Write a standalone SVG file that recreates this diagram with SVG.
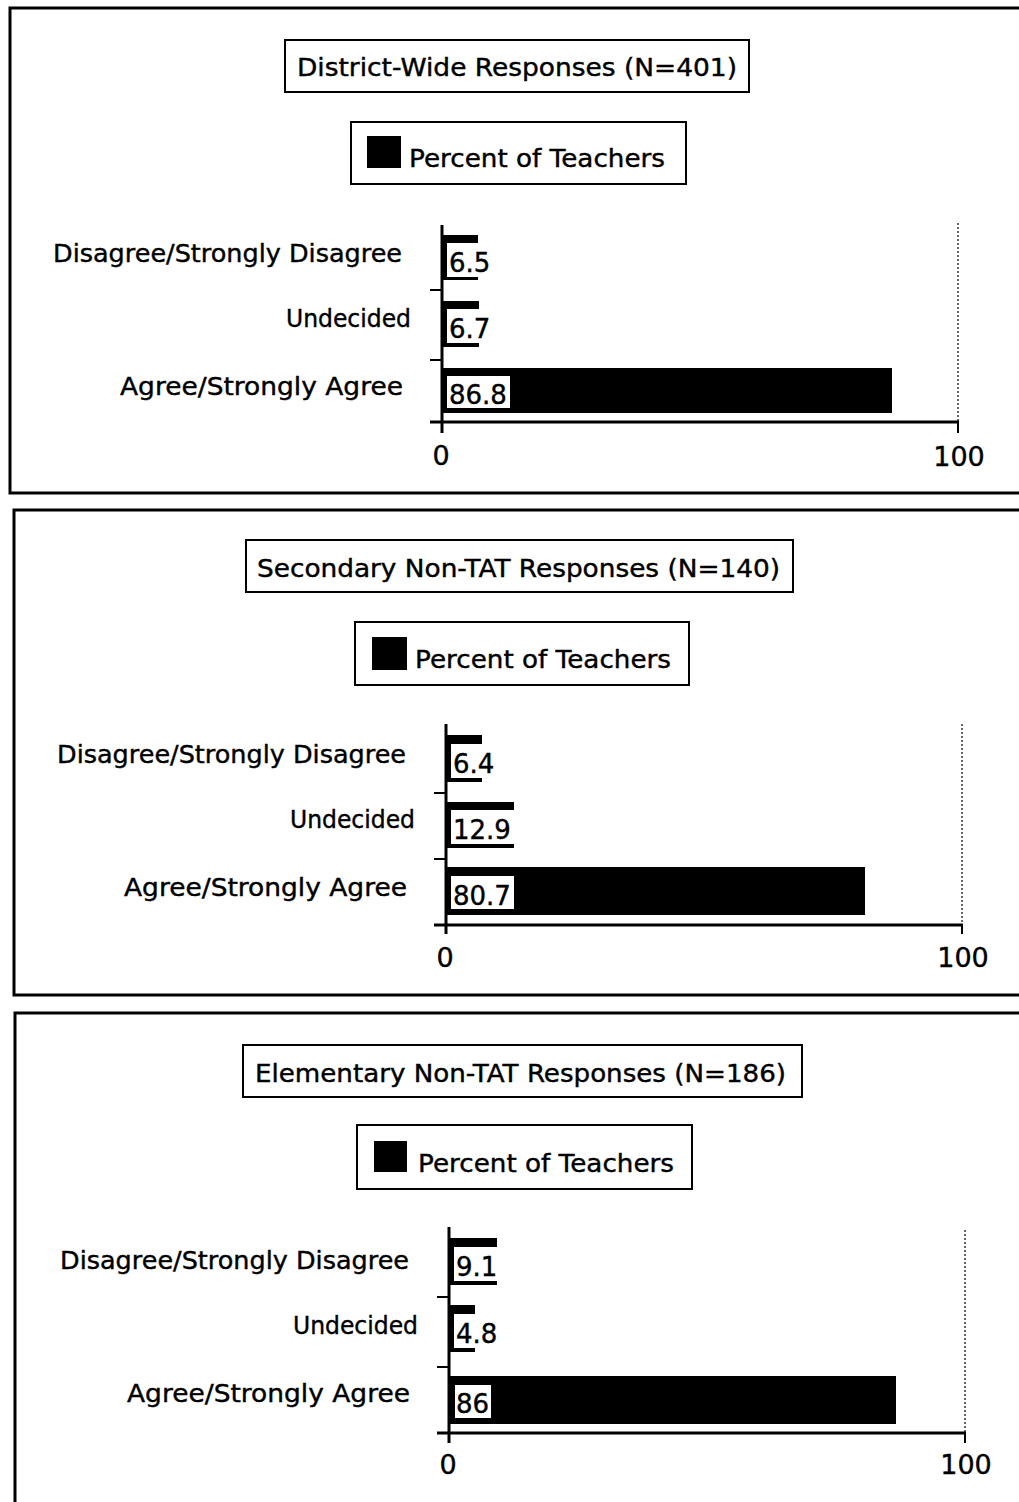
<svg xmlns="http://www.w3.org/2000/svg" width="1019" height="1502" viewBox="0 0 1019 1502">
<style>
  .frame{fill:none;stroke:#000;stroke-width:3}
  .box{fill:#fff;stroke:#000;stroke-width:2}
  .t{font-family:"DejaVu Sans","Liberation Sans",sans-serif;fill:#000;stroke:#000;stroke-width:0.4}
  .title{font-size:24px}
  .leg{font-size:25px}
  .cat{font-size:24px;text-anchor:end}
  .val{font-size:26px}
  .ax{font-size:27px;text-anchor:middle}
  .axis{stroke:#000;stroke-width:3;fill:none}
  .tick{stroke:#000;stroke-width:2;fill:none}
  .grid{stroke:#000;stroke-width:1.2;stroke-dasharray:2 2;fill:none}
  .bar{fill:#000}
  .lbl{fill:#fff}
</style>
<rect width="1019" height="1502" fill="#fff"/>

<!-- Panel 1 -->
<g id="panel-district">
  <rect class="frame" x="10" y="8" width="1030" height="485"/>
  <g id="title-district">
    <rect class="box" x="285" y="40" width="464" height="52"/>
    <text class="t title" x="297" y="76" textLength="440" lengthAdjust="spacingAndGlyphs">District-Wide Responses  (N=401)</text>
  </g>
  <g id="legend-district">
    <rect class="box" x="351" y="122" width="335" height="62"/>
    <rect class="bar" x="367" y="136" width="34" height="32"/>
    <text class="t leg" x="409" y="167" textLength="256" lengthAdjust="spacingAndGlyphs">Percent of Teachers</text>
  </g>
  <g id="chart-district">
    <line class="grid" x1="958" y1="223" x2="958" y2="422"/>
    <text class="t cat" x="402" y="262" textLength="349" lengthAdjust="spacingAndGlyphs">Disagree/Strongly Disagree</text>
    <text class="t cat" x="411" y="327" textLength="125" lengthAdjust="spacingAndGlyphs">Undecided</text>
    <text class="t cat" x="403" y="395" textLength="283" lengthAdjust="spacingAndGlyphs">Agree/Strongly Agree</text>
    <rect class="bar" x="441" y="235" width="37" height="45"/>
    <rect class="lbl" x="447" y="243" width="46" height="34"/>
    <text class="t val" x="449" y="272">6.5</text>
    <rect class="bar" x="441" y="301" width="38" height="46"/>
    <rect class="lbl" x="447" y="309" width="46" height="34"/>
    <text class="t val" x="449" y="338">6.7</text>
    <rect class="bar" x="441" y="368" width="451" height="45"/>
    <rect class="lbl" x="447" y="376" width="63" height="32"/>
    <text class="t val" x="449" y="404">86.8</text>
    <line class="axis" x1="442" y1="225" x2="442" y2="433"/>
    <line class="axis" x1="430" y1="422" x2="959" y2="422"/>
    <line class="tick" x1="958" y1="422" x2="958" y2="433"/>
    <line class="tick" x1="430" y1="290" x2="442" y2="290"/>
    <line class="tick" x1="430" y1="360" x2="442" y2="360"/>
    <text class="t ax" x="441" y="465">0</text>
    <text class="t ax" x="959" y="466">100</text>
  </g>
</g>

<!-- Panel 2 -->
<g id="panel-secondary">
  <rect class="frame" x="14" y="510" width="1030" height="485"/>
  <g id="title-secondary">
    <rect class="box" x="246" y="540" width="547" height="52"/>
    <text class="t title" x="257" y="577" textLength="523" lengthAdjust="spacingAndGlyphs">Secondary Non-TAT Responses  (N=140)</text>
  </g>
  <g id="legend-secondary">
    <rect class="box" x="355" y="622" width="334" height="63"/>
    <rect class="bar" x="372" y="637" width="35" height="33"/>
    <text class="t leg" x="415" y="668" textLength="256" lengthAdjust="spacingAndGlyphs">Percent of Teachers</text>
  </g>
  <g id="chart-secondary" transform="translate(4,501)">
    <line class="grid" x1="958" y1="223" x2="958" y2="422"/>
    <text class="t cat" x="402" y="262" textLength="349" lengthAdjust="spacingAndGlyphs">Disagree/Strongly Disagree</text>
    <text class="t cat" x="411" y="327" textLength="125" lengthAdjust="spacingAndGlyphs">Undecided</text>
    <text class="t cat" x="403" y="395" textLength="283" lengthAdjust="spacingAndGlyphs">Agree/Strongly Agree</text>
    <rect class="bar" x="441" y="234" width="37" height="47"/>
    <rect class="lbl" x="447" y="243" width="46" height="34"/>
    <text class="t val" x="449" y="272">6.4</text>
    <rect class="bar" x="441" y="301" width="69" height="46"/>
    <rect class="lbl" x="447" y="309" width="63" height="34"/>
    <text class="t val" x="449" y="338">12.9</text>
    <rect class="bar" x="441" y="366" width="420" height="48"/>
    <rect class="lbl" x="447" y="375" width="63" height="33"/>
    <text class="t val" x="449" y="404">80.7</text>
    <line class="axis" x1="442" y1="223" x2="442" y2="433"/>
    <line class="axis" x1="430" y1="424" x2="959" y2="424"/>
    <line class="tick" x1="958" y1="424" x2="958" y2="433"/>
    <line class="tick" x1="430" y1="292" x2="442" y2="292"/>
    <line class="tick" x1="430" y1="358" x2="442" y2="358"/>
    <text class="t ax" x="441" y="466">0</text>
    <text class="t ax" x="959" y="466">100</text>
  </g>
</g>

<!-- Panel 3 -->
<g id="panel-elementary">
  <rect class="frame" x="15" y="1013" width="1030" height="520"/>
  <g id="title-elementary">
    <rect class="box" x="243" y="1045" width="559" height="52"/>
    <text class="t title" x="255" y="1082" textLength="531" lengthAdjust="spacingAndGlyphs">Elementary Non-TAT Responses  (N=186)</text>
  </g>
  <g id="legend-elementary">
    <rect class="box" x="357" y="1125" width="335" height="64"/>
    <rect class="bar" x="374" y="1141" width="33" height="31"/>
    <text class="t leg" x="418" y="1172" textLength="256" lengthAdjust="spacingAndGlyphs">Percent of Teachers</text>
  </g>
  <g id="chart-elementary" transform="translate(7,1007)">
    <line class="grid" x1="958" y1="223" x2="958" y2="425"/>
    <text class="t cat" x="402" y="262" textLength="349" lengthAdjust="spacingAndGlyphs">Disagree/Strongly Disagree</text>
    <text class="t cat" x="411" y="327" textLength="125" lengthAdjust="spacingAndGlyphs">Undecided</text>
    <text class="t cat" x="403" y="395" textLength="283" lengthAdjust="spacingAndGlyphs">Agree/Strongly Agree</text>
    <rect class="bar" x="441" y="231" width="49" height="47"/>
    <rect class="lbl" x="447" y="240" width="46" height="34"/>
    <text class="t val" x="449" y="269">9.1</text>
    <rect class="bar" x="441" y="298" width="27" height="47"/>
    <rect class="lbl" x="447" y="307" width="46" height="34"/>
    <text class="t val" x="449" y="336">4.8</text>
    <rect class="bar" x="441" y="369" width="448" height="48"/>
    <rect class="lbl" x="448" y="378" width="36" height="33"/>
    <text class="t val" x="449" y="406">86</text>
    <line class="axis" x1="442" y1="220" x2="442" y2="436"/>
    <line class="axis" x1="430" y1="426" x2="959" y2="426"/>
    <line class="tick" x1="958" y1="426" x2="958" y2="436"/>
    <line class="tick" x1="430" y1="290" x2="442" y2="290"/>
    <line class="tick" x1="430" y1="360" x2="442" y2="360"/>
    <text class="t ax" x="441" y="467">0</text>
    <text class="t ax" x="959" y="467">100</text>
  </g>
</g>
</svg>
